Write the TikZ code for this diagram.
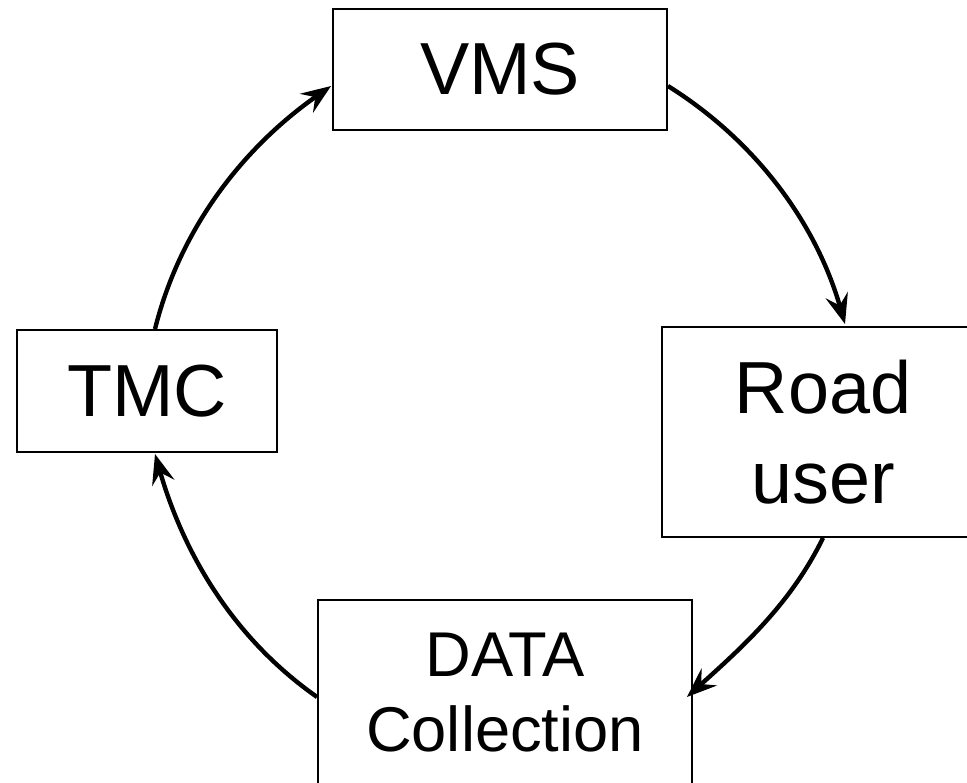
\documentclass[tikz,border=0pt]{standalone}
\usepackage{fontspec}
\setmainfont{Liberation Sans}
\usetikzlibrary{arrows.meta,calc}
\begin{document}
\begin{tikzpicture}[x=0.02cm,y=0.02cm,
  box/.style={draw=black,line width=1.1pt,inner sep=0pt,align=center,
    font={\fontsize{42}{51}\selectfont}},
  smallbox/.style={box,font={\fontsize{36}{42.5}\selectfont}},
  flow/.style={line width=2.5pt,-{Stealth[length=17pt,width=13pt,inset=6pt]},looseness=0.9}]
\useasboundingbox (0,0) rectangle (967,782);
\fill[white] (0,0) rectangle (967,782);
\node[box,minimum width=6.68cm,minimum height=2.42cm] (vms) at (500,712.5) {VMS};
\node[box,minimum width=5.2cm,minimum height=2.44cm] (tmc) at (147,391) {TMC};
\node[box,minimum width=6.44cm,minimum height=4.2cm] (road) at (823,350) {Road\\user};
\node[smallbox,minimum width=7.48cm,minimum height=3.7cm] (data) at (505,89.5) {DATA\\Collection};
\draw[flow] ($(tmc.north)+(8,0)$) to[out=76,in=215] ($(vms.west)+(-1,-16.5)$);
\draw[flow] ($(vms.east)+(0,-16.5)$) to[out=-32,in=106] ($(road.north)+(22,2)$);
\draw[flow] (road.south) to[out=-116,in=42] ($(data.east)+(-6,-4.5)$);
\draw[flow] ($(data.west)+(0,-4.5)$) to[out=145,in=-74] ($(tmc.south)+(8,-1)$);
\end{tikzpicture}
\end{document}
